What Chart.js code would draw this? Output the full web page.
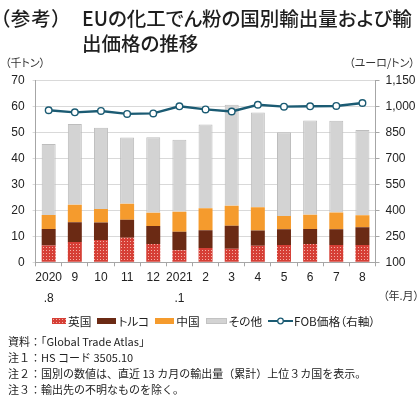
<!DOCTYPE html>
<html><head><meta charset="utf-8">
<script src="https://cdn.jsdelivr.net/npm/chart.js@4.4.1/dist/chart.umd.min.js"></script>
<style>
body{margin:0;width:420px;height:396px;overflow:hidden;background:#fff;font-family:"Noto Sans CJK JP","Noto Sans",sans-serif;color:#222;position:relative}
.abs{position:absolute;white-space:nowrap;font-feature-settings:"palt"}
.ttl{font-size:19.5px;line-height:20px;font-weight:500;color:#1e1e1e}
#wrap{position:absolute;left:0;top:0;width:420px;height:396px}
.legend{position:absolute;left:52px;top:313px;display:flex;align-items:center;font-size:11.7px;line-height:16px;color:#222;white-space:nowrap;font-feature-settings:"palt"}
.sw{display:inline-block;width:19px;height:6px;margin-right:2px}
.item{display:flex;align-items:center;margin-right:6px}
.notes{position:absolute;left:8px;top:333px;font-size:11px;line-height:16px;color:#222;white-space:nowrap}
</style></head><body>
<div id="wrap"><canvas id="c" width="420" height="396"></canvas></div>
<div class="abs ttl" style="left:0px;top:8px;letter-spacing:1px">（参考）</div>
<div class="abs ttl" style="left:82px;top:8px">EUの化工でん粉の国別輸出量および輸</div>
<div class="abs ttl" style="left:82px;top:33px">出価格の推移</div>
<div class="abs" style="left:5px;top:55px;font-size:11px;line-height:14px;color:#333">（千トン）</div>
<div class="abs" style="right:5px;top:55px;font-size:11px;line-height:14px;color:#333">（ユーロ/トン）</div>
<div class="abs" style="left:383px;top:288px;font-size:11px;line-height:14px;color:#333">（年.月）</div>
<div class="legend" id="legend"></div>
<div class="notes">
<div>資料：「Global Trade Atlas」</div>
<div>注１：HS コード 3505.10</div>
<div>注２：国別の数値は、直近 13 カ月の輸出量（累計）上位３カ国を表示。</div>
<div>注３：輸出先の不明なものを除く。</div>
</div>
<script>
const categories = [['2020','.8'],'9','10','11','12',['2021','.1'],'2','3','4','5','6','7','8'];
const seriesNames = ['英国','トルコ','中国','その他','FOB価格（右軸）'];
const ukValues     = [6.5, 7.8, 8.6, 9.5, 7.1, 4.6, 5.5, 5.2, 6.4, 6.7, 7.1, 6.7, 6.7];
const turkeyValues = [6.3, 7.6, 6.7, 6.9, 6.9, 7.2, 6.9, 8.9, 5.9, 6.0, 5.7, 6.0, 6.8];
const chinaValues  = [5.4, 6.8, 5.2, 6.2, 5.1, 7.7, 8.4, 7.7, 8.9, 5.1, 5.5, 6.5, 4.6];
const otherValues  = [27.4, 31.1, 31.4, 25.5, 29.1, 27.7, 32.3, 38.9, 36.5, 32.3, 36.4, 35.4, 32.9];
const fobPrice     = [979, 967, 975, 958, 961, 1002, 984, 972, 1011, 1000, 1002, 1004, 1021];
const leftTicks  = [0, 10, 20, 30, 40, 50, 60, 70];
const rightTicks = [100, 250, 400, 550, 700, 850, 1000, 1150];

const COL_TR = '#6b2a14', COL_CN = '#f59b2d', COL_OT = '#d3d3d3', COL_LINE = '#1b5b73';

function makeTile(){
  const c = document.createElement('canvas'); c.width = 3; c.height = 3;
  const g = c.getContext('2d');
  g.fillStyle = '#d63f36'; g.fillRect(0,0,3,3);
  g.fillStyle = '#f3b2a8'; g.fillRect(1,1,1,1);
  return c;
}
const tile = makeTile();
const ctx = document.getElementById('c').getContext('2d');
const ukPattern = ctx.createPattern(tile, 'repeat');

// legend
const lg = document.getElementById('legend');
const swStyles = [
  'background-image:url(' + tile.toDataURL() + ');width:14px',
  'background:' + COL_TR,
  'background:' + COL_CN,
  'background:' + COL_OT + ';box-shadow:inset 0 0 0 1px #c2c2c2;width:21px'
];
seriesNames.forEach((n, i) => {
  const it = document.createElement('span'); it.className = 'item';
  if (i < 4) {
    const s = document.createElement('span'); s.className = 'sw'; s.style.cssText = swStyles[i];
    it.appendChild(s);
  } else {
    const s = document.createElement('span');
    s.innerHTML = '<svg width="25" height="8" style="display:block;margin-right:1px"><line x1="0" y1="4" x2="25" y2="4" stroke="' + COL_LINE + '" stroke-width="2"/><circle cx="12.5" cy="4" r="2.8" fill="#fff" stroke="' + COL_LINE + '" stroke-width="1.3"/></svg>';
    it.appendChild(s);
  }
  const t = document.createElement('span'); t.textContent = n; it.appendChild(t);
  lg.appendChild(it);
});

const tickFont = {family: '"Liberation Sans", Arial, sans-serif', size: 12};
new Chart(ctx, {
  data: {
    labels: categories,
    datasets: [
      {type:'line', label: seriesNames[4], data: fobPrice, yAxisID:'y1', order:0,
       borderColor: COL_LINE, borderWidth: 2.4, pointRadius: 3.3, pointBorderWidth: 1.4,
       pointBackgroundColor: '#fff', pointBorderColor: COL_LINE, tension: 0},
      {type:'bar', label: seriesNames[0], data: ukValues, backgroundColor: ukPattern, order:1, stack:'s'},
      {type:'bar', label: seriesNames[1], data: turkeyValues, backgroundColor: COL_TR, order:1, stack:'s'},
      {type:'bar', label: seriesNames[2], data: chinaValues, backgroundColor: COL_CN, order:1, stack:'s'},
      {type:'bar', label: seriesNames[3], data: otherValues, backgroundColor: COL_OT, borderColor:'#bdbdbd', borderWidth:{top:1,left:1,right:1,bottom:0}, order:1, stack:'s'}
    ]
  },
  options: {
    responsive: false, animation: false,
    layout: {padding: {top: 80.7, left: 0, right: 0, bottom: 0}},
    datasets: {bar: {barPercentage: 0.535, categoryPercentage: 1}},
    plugins: {legend: {display: false}, tooltip: {enabled: false}},
    scales: {
      x: {
        stacked: true,
        grid: {drawOnChartArea: false, offset: true, tickLength: 4, color: '#a6a6a6'},
        border: {color: '#a6a6a6'},
        ticks: {font: {...tickFont, lineHeight: 1.75}, color: '#222', padding: 1, maxRotation: 0, autoSkip: false},
        afterFit: s => { s.height = 133.7; }
      },
      y: {
        stacked: true, min: 0, max: 70, position: 'left',
        afterBuildTicks: s => { s.ticks = leftTicks.map(v => ({value: v})); },
        grid: {color: '#d9d9d9', tickLength: 3},
        border: {color: '#a6a6a6'},
        ticks: {font: tickFont, color: '#222', padding: 8},
        afterFit: s => { s.width = 35.6; }
      },
      y1: {
        min: 100, max: 1150, position: 'right',
        afterBuildTicks: s => { s.ticks = rightTicks.map(v => ({value: v})); },
        grid: {drawOnChartArea: false, tickLength: 4, color: '#a6a6a6'},
        border: {color: '#a6a6a6'},
        ticks: {font: tickFont, color: '#222', padding: 6, callback: v => v.toLocaleString('en-US')},
        afterFit: s => { s.width = 44.5; }
      }
    }
  }
});
</script>
</body></html>
